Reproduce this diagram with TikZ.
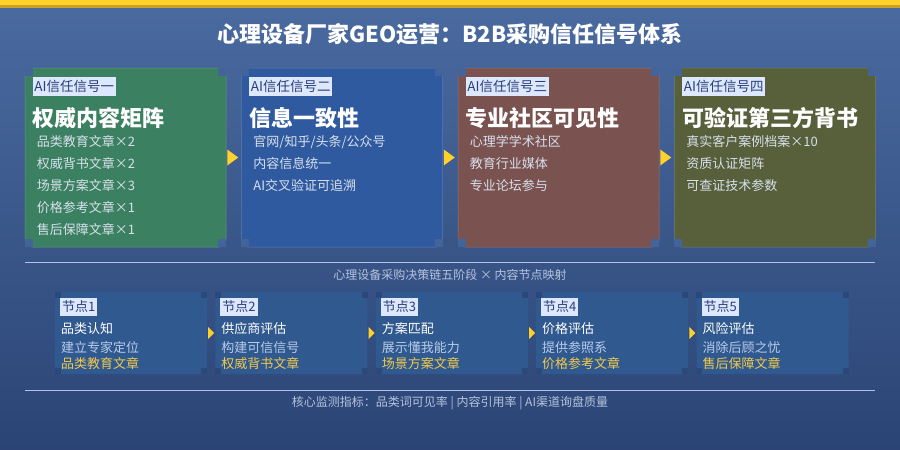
\documentclass[tikz,border=0pt]{standalone}
\usepackage{fontspec}
\setmainfont{Noto Sans CJK SC}
\usetikzlibrary{positioning, calc}

\definecolor{bgtop}{HTML}{4A6BA0}
\definecolor{bgbottom}{HTML}{2B4475}
\definecolor{baryellow}{HTML}{FFD22B}
\definecolor{bardark}{HTML}{C9A028}
\definecolor{cardgreen}{HTML}{3B8061}
\definecolor{cardblue}{HTML}{2F5AA0}
\definecolor{cardbrown}{HTML}{7A5250}
\definecolor{cardolive}{HTML}{585F3B}
\definecolor{cornerblue}{HTML}{43639B}
\definecolor{tagfill}{HTML}{DDE8FF}
\definecolor{tagtext}{HTML}{2B3E78}
\definecolor{itemtext}{HTML}{D8E0EC}
\definecolor{stagefill}{HTML}{30598F}
\definecolor{stagecorner}{HTML}{2A4879}
\definecolor{stagesub}{HTML}{B8CBEA}
\definecolor{stagegold}{HTML}{F2C94C}
\definecolor{rulecolor}{HTML}{AFC3EA}
\definecolor{notetext}{HTML}{B5C4DF}

\begin{document}
\begin{tikzpicture}[x=1pt, y=-1pt, node distance=15pt,
  card/.style={rectangle, rounded corners=7pt, minimum width=201pt, minimum height=179pt, inner sep=0pt},
  tag/.style={fill=tagfill, text=tagtext, inner xsep=1.5pt, inner ysep=3.5pt, anchor=west, font=\fontsize{13.5}{15}\selectfont},
  heading/.style={text=white, inner sep=0pt, anchor=west, font=\fontsize{22}{24}\selectfont\bfseries},
  item/.style={text=itemtext, inner sep=0pt, anchor=west, font=\fontsize{13}{15}\selectfont},
  stage/.style={rectangle, rounded corners=4pt, fill=stagefill, minimum width=152pt, minimum height=82pt, inner sep=0pt},
  stag/.style={fill=tagfill, text=tagtext, inner xsep=2pt, inner ysep=3pt, anchor=west, font=\fontsize{13}{14}\selectfont},
  stagemain/.style={text=white, inner sep=0pt, anchor=west, font=\fontsize{13}{15}\selectfont},
  stagesub/.style={text=stagesub, inner sep=0pt, anchor=west, font=\fontsize{13}{15}\selectfont},
  stagegold/.style={text=stagegold, inner sep=0pt, anchor=west, font=\fontsize{13}{15}\selectfont},
  note/.style={text=notetext, inner sep=0pt, font=\fontsize{12}{14}\selectfont},
  arrowtip/.style={fill=baryellow}]

  % Background and top bar
  \useasboundingbox (0,0) rectangle (900,450);
  \shade[top color=bgtop, bottom color=bgbottom] (0,0) rectangle (900,450);
  \fill[baryellow] (0,0) rectangle (900,5);
  \fill[bardark] (0,5) rectangle (900,8);

  % Title
  \node[text=white, font=\fontsize{22}{24}\selectfont\bfseries] (title) at (450,34) {心理设备厂家GEO运营：B2B采购信任信号体系};

  % Signal cards
  \node[card, fill=cardgreen, draw=cardgreen!80!white, line width=0.5pt] (card1) at (125.5,157.5) {};
  \node[card, fill=cardblue, draw=cardblue!80!white, line width=0.5pt, right=of card1] (card2) {};
  \node[card, fill=cardbrown, draw=cardbrown!80!white, line width=0.5pt, right=of card2] (card3) {};
  \node[card, fill=cardolive, draw=cardolive!80!white, line width=0.5pt, right=of card3] (card4) {};

  % Corner marks of the cards
  \fill[cornerblue] (card1.north west) rectangle ++(8,8);
  \fill[cornerblue] (card1.north east) rectangle ++(-8,8);
  \fill[cornerblue] (card1.south west) rectangle ++(8,-8);
  \fill[cornerblue] (card1.south east) rectangle ++(-8,-8);
  \fill[cornerblue] (card2.north west) rectangle ++(8,8);
  \fill[cornerblue] (card2.north east) rectangle ++(-8,8);
  \fill[cornerblue] (card2.south west) rectangle ++(8,-8);
  \fill[cornerblue] (card2.south east) rectangle ++(-8,-8);
  \fill[cornerblue] (card3.north west) rectangle ++(8,8);
  \fill[cornerblue] (card3.north east) rectangle ++(-8,8);
  \fill[cornerblue] (card3.south west) rectangle ++(8,-8);
  \fill[cornerblue] (card3.south east) rectangle ++(-8,-8);
  \fill[cornerblue] (card4.north west) rectangle ++(8,8);
  \fill[cornerblue] (card4.north east) rectangle ++(-8,8);
  \fill[cornerblue] (card4.south west) rectangle ++(8,-8);
  \fill[cornerblue] (card4.south east) rectangle ++(-8,-8);

  % Card 1
  \node[tag] (tag1) at ($(card1.north west)+(8,18.5)$) {AI信任信号一};
  \node[heading] (head1) at ($(card1.north west)+(8,50)$) {权威内容矩阵};
  \node[item] (item11) at ($(card1.north west)+(12,74)$) {品类教育文章×2};
  \node[item] (item12) at ($(card1.north west)+(12,96)$) {权威背书文章×2};
  \node[item] (item13) at ($(card1.north west)+(12,118)$) {场景方案文章×3};
  \node[item] (item14) at ($(card1.north west)+(12,140)$) {价格参考文章×1};
  \node[item] (item15) at ($(card1.north west)+(12,162)$) {售后保障文章×1};

  % Card 2
  \node[tag] (tag2) at ($(card2.north west)+(8,18.5)$) {AI信任信号二};
  \node[heading] (head2) at ($(card2.north west)+(8,50)$) {信息一致性};
  \node[item] (item21) at ($(card2.north west)+(12,74)$) {官网/知乎/头条/公众号};
  \node[item] (item22) at ($(card2.north west)+(12,96)$) {内容信息统一};
  \node[item] (item23) at ($(card2.north west)+(12,118)$) {AI交叉验证可追溯};

  % Card 3
  \node[tag] (tag3) at ($(card3.north west)+(8,18.5)$) {AI信任信号三};
  \node[heading] (head3) at ($(card3.north west)+(8,50)$) {专业社区可见性};
  \node[item] (item31) at ($(card3.north west)+(12,74)$) {心理学学术社区};
  \node[item] (item32) at ($(card3.north west)+(12,96)$) {教育行业媒体};
  \node[item] (item33) at ($(card3.north west)+(12,118)$) {专业论坛参与};

  % Card 4
  \node[tag] (tag4) at ($(card4.north west)+(8,18.5)$) {AI信任信号四};
  \node[heading] (head4) at ($(card4.north west)+(8,50)$) {可验证第三方背书};
  \node[item] (item41) at ($(card4.north west)+(12,74)$) {真实客户案例档案×10};
  \node[item] (item42) at ($(card4.north west)+(12,96)$) {资质认证矩阵};
  \node[item] (item43) at ($(card4.north west)+(12,118)$) {可查证技术参数};

  % Arrows between cards
  \fill[arrowtip] ($(card1.east)+(1,-8)$) -- ($(card1.east)+(12,0)$) -- ($(card1.east)+(1,8)$) -- cycle;
  \fill[arrowtip] ($(card2.east)+(1,-8)$) -- ($(card2.east)+(12,0)$) -- ($(card2.east)+(1,8)$) -- cycle;
  \fill[arrowtip] ($(card3.east)+(1,-8)$) -- ($(card3.east)+(12,0)$) -- ($(card3.east)+(1,8)$) -- cycle;

  % Middle rule and caption
  \draw[rulecolor, line width=0.8pt] (25,262) -- (875,262);
  \node[note] (caption) at (450,275) {心理设备采购决策链五阶段 × 内容节点映射};

  % Decision stages
  \node[stage] (stage1) at (131,333) {};
  \node[stage, right=8pt of stage1] (stage2) {};
  \node[stage, right=8pt of stage2] (stage3) {};
  \node[stage, right=8pt of stage3] (stage4) {};
  \node[stage, right=8pt of stage4] (stage5) {};

  % Corner marks of the stages
  \fill[stagecorner] (stage1.north east) rectangle ++(-6,6);
  \fill[stagecorner] (stage1.south east) rectangle ++(-6,-6);
  \fill[stagecorner] (stage1.north west) rectangle ++(6,6);
  \fill[stagecorner] (stage1.south west) rectangle ++(6,-6);
  \fill[stagecorner] (stage2.north east) rectangle ++(-6,6);
  \fill[stagecorner] (stage2.south east) rectangle ++(-6,-6);
  \fill[stagecorner] (stage2.north west) rectangle ++(6,6);
  \fill[stagecorner] (stage2.south west) rectangle ++(6,-6);
  \fill[stagecorner] (stage3.north east) rectangle ++(-6,6);
  \fill[stagecorner] (stage3.south east) rectangle ++(-6,-6);
  \fill[stagecorner] (stage3.north west) rectangle ++(6,6);
  \fill[stagecorner] (stage3.south west) rectangle ++(6,-6);
  \fill[stagecorner] (stage4.north east) rectangle ++(-6,6);
  \fill[stagecorner] (stage4.south east) rectangle ++(-6,-6);
  \fill[stagecorner] (stage4.north west) rectangle ++(6,6);
  \fill[stagecorner] (stage4.south west) rectangle ++(6,-6);
  \fill[stagecorner] (stage5.north east) rectangle ++(-6,6);
  \fill[stagecorner] (stage5.south east) rectangle ++(-6,-6);
  \fill[stagecorner] (stage5.north west) rectangle ++(6,6);
  \fill[stagecorner] (stage5.south west) rectangle ++(6,-6);

  % Stage texts
  \node[stag] (stag1) at ($(stage1.north west)+(5,15)$) {节点1};
  \node[stagemain] (smain1) at ($(stage1.north west)+(6,37)$) {品类认知};
  \node[stagesub] (ssub1) at ($(stage1.north west)+(6,56)$) {建立专家定位};
  \node[stagegold] (sgold1) at ($(stage1.north west)+(6,72)$) {品类教育文章};

  \node[stag] (stag2) at ($(stage2.north west)+(5,15)$) {节点2};
  \node[stagemain] (smain2) at ($(stage2.north west)+(6,37)$) {供应商评估};
  \node[stagesub] (ssub2) at ($(stage2.north west)+(6,56)$) {构建可信信号};
  \node[stagegold] (sgold2) at ($(stage2.north west)+(6,72)$) {权威背书文章};

  \node[stag] (stag3) at ($(stage3.north west)+(5,15)$) {节点3};
  \node[stagemain] (smain3) at ($(stage3.north west)+(6,37)$) {方案匹配};
  \node[stagesub] (ssub3) at ($(stage3.north west)+(6,56)$) {展示懂我能力};
  \node[stagegold] (sgold3) at ($(stage3.north west)+(6,72)$) {场景方案文章};

  \node[stag] (stag4) at ($(stage4.north west)+(5,15)$) {节点4};
  \node[stagemain] (smain4) at ($(stage4.north west)+(6,37)$) {价格评估};
  \node[stagesub] (ssub4) at ($(stage4.north west)+(6,56)$) {提供参照系};
  \node[stagegold] (sgold4) at ($(stage4.north west)+(6,72)$) {价格参考文章};

  \node[stag] (stag5) at ($(stage5.north west)+(5,15)$) {节点5};
  \node[stagemain] (smain5) at ($(stage5.north west)+(6,37)$) {风险评估};
  \node[stagesub] (ssub5) at ($(stage5.north west)+(6,56)$) {消除后顾之忧};
  \node[stagegold] (sgold5) at ($(stage5.north west)+(6,72)$) {售后保障文章};

  % Arrows between stages
  \fill[arrowtip] ($(stage1.east)+(1,-6)$) -- ($(stage1.east)+(7,0)$) -- ($(stage1.east)+(1,6)$) -- cycle;
  \fill[arrowtip] ($(stage2.east)+(1,-6)$) -- ($(stage2.east)+(7,0)$) -- ($(stage2.east)+(1,6)$) -- cycle;
  \fill[arrowtip] ($(stage3.east)+(1,-6)$) -- ($(stage3.east)+(7,0)$) -- ($(stage3.east)+(1,6)$) -- cycle;
  \fill[arrowtip] ($(stage4.east)+(1,-6)$) -- ($(stage4.east)+(7,0)$) -- ($(stage4.east)+(1,6)$) -- cycle;

  % Bottom rule and monitoring note
  \draw[rulecolor, line width=0.8pt] (25,390) -- (875,390);
  \node[note] (footer) at (450,403) {核心监测指标：品类词可见率 | 内容引用率 | AI渠道询盘质量};
\end{tikzpicture}
\end{document}
